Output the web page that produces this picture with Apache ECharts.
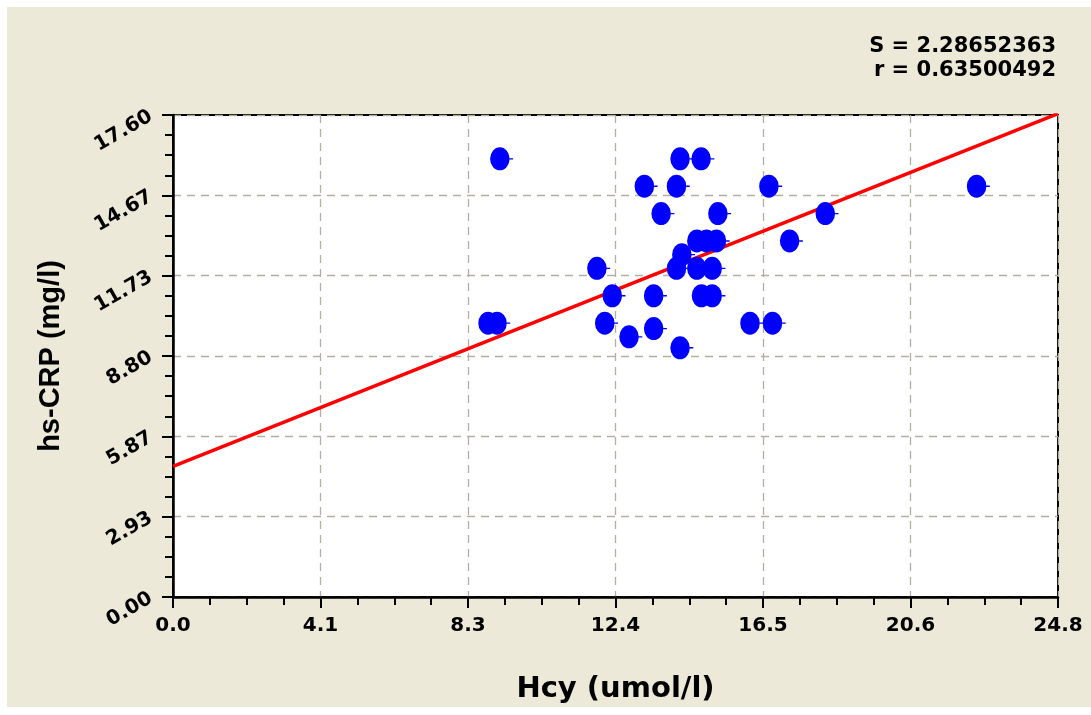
<!DOCTYPE html>
<html>
<head>
<meta charset="utf-8">
<script src="https://cdn.jsdelivr.net/npm/echarts@6/dist/echarts.min.js"></script>
<style>
html,body{margin:0;padding:0;background:#ffffff;width:1091px;height:715px;overflow:hidden;}
#panel{position:absolute;left:7px;top:7px;width:1084px;height:700px;background:#ECE9D8;}
#chart{position:absolute;left:0;top:0;width:1091px;height:715px;}
</style>
</head>
<body>
<div id="panel"></div>
<div id="chart"></div>
<script>
// Data
var hcy = [9.16, 8.83, 9.08, 14.21, 14.80, 13.21, 14.11, 16.70, 22.52, 13.68, 15.27, 18.28, 14.68, 14.95, 15.23, 17.28, 14.26, 11.88, 14.11, 14.68, 15.11, 12.31, 13.47, 14.81, 15.11, 12.10, 16.17, 16.80, 12.78, 13.47, 14.21];
var crp = [16.0, 10.0, 10.0, 16.0, 16.0, 15.0, 15.0, 15.0, 15.0, 14.0, 14.0, 14.0, 13.0, 13.0, 13.0, 13.0, 12.5, 12.0, 12.0, 12.0, 12.0, 11.0, 11.0, 11.0, 11.0, 10.0, 10.0, 10.0, 9.5, 9.8, 9.1];
// regression line end points
var fitX = [0, 24.8];
var fitY = [4.77, 17.65];
// tick labels
var xTickLabels = ['0.0', '4.1', '8.3', '12.4', '16.5', '20.6', '24.8'];
var yTickLabels = ['0.00', '2.93', '5.87', '8.80', '11.73', '14.67', '17.60'];
var statLines = ['S = 2.28652363', 'r = 0.63500492'];
var xName = 'Hcy (umol/l)';
var yName = 'hs-CRP (mg/l)';

var xMax = 24.8, yMax = 17.6;
var xInt = xMax / 6, yInt = yMax / 6;

var points = hcy.map(function (x, i) { return [x, crp[i]]; });
var fit = fitX.map(function (x, i) { return [x, fitY[i]]; });

var chart = echarts.init(document.getElementById('chart'), null, {renderer: 'canvas'});
var splitStyle = {show: true, lineStyle: {color: '#b4b0a0', width: 1.3, type: [8, 6]}};
chart.setOption({
  backgroundColor: 'transparent',
  animation: false,
  grid: {left: 173, top: 115, right: 33, bottom: 118, show: true, backgroundColor: '#ffffff', borderColor: '#000000', borderWidth: 2},
  graphic: statLines.map(function (t, i) {
    return {type: 'text', right: 35, top: 36 + i * 24, style: {text: t, font: 'bold 21px "DejaVu Sans"', fill: '#000000', textAlign: 'right'}};
  }),
  xAxis: {
    type: 'value', min: 0, max: xMax, interval: xInt,
    name: xName, nameLocation: 'middle', nameGap: 78,
    nameTextStyle: {fontFamily: 'DejaVu Sans', fontWeight: 'bold', fontSize: 29, color: '#000'},
    axisLine: {show: true, lineStyle: {color: '#000', width: 2.5}},
    axisTick: {show: true, inside: false, length: 11, lineStyle: {color: '#000', width: 2}},
    minorTick: {show: true, splitNumber: 4, length: 8, lineStyle: {color: '#000', width: 2}},
    axisLabel: {margin: 19, fontFamily: 'DejaVu Sans', fontWeight: 'bold', fontSize: 20, color: '#000',
      formatter: function (v) { return xTickLabels[Math.round(v / xInt)]; }},
    splitLine: splitStyle
  },
  yAxis: {
    type: 'value', min: 0, max: yMax, interval: yInt,
    name: yName, nameLocation: 'middle', nameGap: 108, nameRotate: 90,
    nameTextStyle: {fontFamily: 'Liberation Sans', fontWeight: 'bold', fontSize: 29, color: '#000'},
    axisLine: {show: true, lineStyle: {color: '#000', width: 2.5}},
    axisTick: {show: true, inside: false, length: 11, lineStyle: {color: '#000', width: 2}},
    minorTick: {show: true, splitNumber: 4, length: 8, lineStyle: {color: '#000', width: 2}},
    axisLabel: {margin: 22, rotate: 30, fontFamily: 'DejaVu Sans', fontWeight: 'bold', fontSize: 20, color: '#000',
      formatter: function (v) { return yTickLabels[Math.round(v / yInt)]; }},
    splitLine: splitStyle
  },
  series: [
    {
      type: 'line', data: fit, showSymbol: false, symbol: 'none', clip: true, z: 3,
      lineStyle: {color: '#ff0000', width: 3.5}
    },
    {
      type: 'scatter', data: points, z: 4,
      symbol: 'path://M0,10 A8.5,10 0 1,1 17,10 A8.5,10 0 1,1 0,10 Z M17,9.4 L20,9.4 L20,10.6 L17,10.6 Z',
      symbolSize: [23, 23], symbolKeepAspect: true, symbolOffset: [1.7, 0],
      itemStyle: {color: '#0000ff', opacity: 1}
    }
  ]
});
</script>
</body>
</html>
